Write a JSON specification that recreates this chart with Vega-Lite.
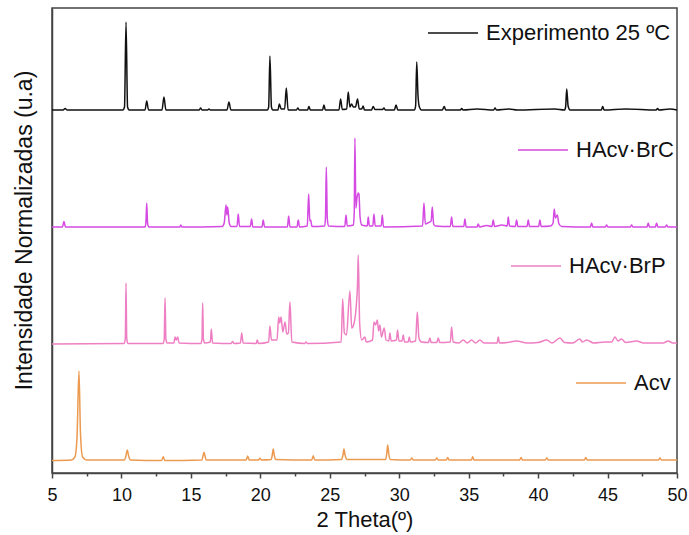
{
  "$schema": "https://vega.github.io/schema/vega-lite/v6.json",
  "width": 625,
  "height": 465,
  "autosize": {"type": "none"},
  "padding": {"left": 52, "top": 8, "right": 12, "bottom": 62},
  "background": "white",
  "config": {
    "view": {"stroke": "#444444", "strokeWidth": 1.5},
    "axis": {
      "grid": false,
      "domainColor": "#444444",
      "domainWidth": 1.5,
      "tickColor": "#444444",
      "tickWidth": 1.5,
      "labelFont": "Liberation Sans",
      "labelFontSize": 18,
      "labelColor": "#111111",
      "titleFont": "Liberation Sans",
      "titleFontWeight": "normal",
      "titleColor": "#111111"
    },
    "legend": {
      "orient": "none",
      "symbolType": "stroke",
      "symbolSize": 2500,
      "symbolStrokeWidth": 1.5,
      "labelFont": "Liberation Sans",
      "labelFontSize": 22,
      "labelLimit": 0,
      "labelColor": "#111111",
      "labelOffset": 7,
      "padding": 0,
      "title": null
    }
  },
  "datasets": {
    "exp": [
      {"theta": 5.0, "intensidade": 363}, {"theta": 5.8, "intensidade": 363}, {"theta": 5.94, "intensidade": 364.5}, {"theta": 6.1, "intensidade": 363},
      {"theta": 10.1, "intensidade": 363}, {"theta": 10.22, "intensidade": 366}, {"theta": 10.33, "intensidade": 451}, {"theta": 10.44, "intensidade": 366}, {"theta": 10.56, "intensidade": 363},
      {"theta": 11.7, "intensidade": 363}, {"theta": 11.82, "intensidade": 372}, {"theta": 11.95, "intensidade": 363},
      {"theta": 12.92, "intensidade": 363}, {"theta": 13.06, "intensidade": 376}, {"theta": 13.2, "intensidade": 363},
      {"theta": 15.6, "intensidade": 363}, {"theta": 15.7, "intensidade": 365}, {"theta": 15.8, "intensidade": 363},
      {"theta": 16.2, "intensidade": 363}, {"theta": 16.3, "intensidade": 364}, {"theta": 16.4, "intensidade": 363},
      {"theta": 17.6, "intensidade": 363}, {"theta": 17.74, "intensidade": 371}, {"theta": 17.88, "intensidade": 363},
      {"theta": 20.5, "intensidade": 363}, {"theta": 20.6, "intensidade": 366}, {"theta": 20.69, "intensidade": 417}, {"theta": 20.8, "intensidade": 366}, {"theta": 20.9, "intensidade": 363},
      {"theta": 21.27, "intensidade": 363}, {"theta": 21.37, "intensidade": 369}, {"theta": 21.5, "intensidade": 364},
      {"theta": 21.75, "intensidade": 364}, {"theta": 21.87, "intensidade": 385}, {"theta": 22.0, "intensidade": 363},
      {"theta": 22.6, "intensidade": 363}, {"theta": 22.7, "intensidade": 365}, {"theta": 22.8, "intensidade": 363},
      {"theta": 23.4, "intensidade": 363}, {"theta": 23.5, "intensidade": 366.5}, {"theta": 23.6, "intensidade": 363},
      {"theta": 24.48, "intensidade": 363}, {"theta": 24.58, "intensidade": 368}, {"theta": 24.68, "intensidade": 363},
      {"theta": 25.66, "intensidade": 363}, {"theta": 25.78, "intensidade": 374}, {"theta": 25.9, "intensidade": 363.5},
      {"theta": 26.22, "intensidade": 364}, {"theta": 26.33, "intensidade": 381}, {"theta": 26.45, "intensidade": 366},
      {"theta": 26.57, "intensidade": 369}, {"theta": 26.7, "intensidade": 366}, {"theta": 26.85, "intensidade": 366},
      {"theta": 27.0, "intensidade": 374}, {"theta": 27.12, "intensidade": 364}, {"theta": 27.3, "intensidade": 364},
      {"theta": 27.4, "intensidade": 367}, {"theta": 27.5, "intensidade": 363},
      {"theta": 28.0, "intensidade": 363}, {"theta": 28.13, "intensidade": 366.5}, {"theta": 28.25, "intensidade": 363.5},
      {"theta": 28.8, "intensidade": 363.5}, {"theta": 28.9, "intensidade": 365}, {"theta": 29.0, "intensidade": 363},
      {"theta": 29.65, "intensidade": 363}, {"theta": 29.77, "intensidade": 368}, {"theta": 29.9, "intensidade": 363},
      {"theta": 31.1, "intensidade": 363}, {"theta": 31.18, "intensidade": 367}, {"theta": 31.26, "intensidade": 411}, {"theta": 31.35, "intensidade": 378}, {"theta": 31.45, "intensidade": 366}, {"theta": 31.6, "intensidade": 363},
      {"theta": 33.1, "intensidade": 363}, {"theta": 33.24, "intensidade": 366.5}, {"theta": 33.35, "intensidade": 363},
      {"theta": 34.4, "intensidade": 363}, {"theta": 34.5, "intensidade": 364.5}, {"theta": 34.6, "intensidade": 363},
      {"theta": 35.6, "intensidade": 364}, {"theta": 36.8, "intensidade": 363}, {"theta": 36.9, "intensidade": 365}, {"theta": 37.0, "intensidade": 363},
      {"theta": 37.9, "intensidade": 364}, {"theta": 38.5, "intensidade": 363}, {"theta": 41.2, "intensidade": 364},
      {"theta": 41.9, "intensidade": 363}, {"theta": 41.98, "intensidade": 366}, {"theta": 42.06, "intensidade": 384}, {"theta": 42.16, "intensidade": 367}, {"theta": 42.3, "intensidade": 363},
      {"theta": 44.55, "intensidade": 363}, {"theta": 44.65, "intensidade": 366.5}, {"theta": 44.75, "intensidade": 363},
      {"theta": 46.3, "intensidade": 364}, {"theta": 48.5, "intensidade": 363}, {"theta": 48.6, "intensidade": 364.5}, {"theta": 48.7, "intensidade": 363},
      {"theta": 49.5, "intensidade": 364}, {"theta": 50.0, "intensidade": 363}
    ],
    "brc": [
      {"theta": 5.0, "intensidade": 246}, {"theta": 5.75, "intensidade": 246}, {"theta": 5.86, "intensidade": 251.5}, {"theta": 5.97, "intensidade": 246},
      {"theta": 11.7, "intensidade": 246}, {"theta": 11.76, "intensidade": 250}, {"theta": 11.82, "intensidade": 270}, {"theta": 11.88, "intensidade": 250}, {"theta": 11.96, "intensidade": 246},
      {"theta": 14.2, "intensidade": 246}, {"theta": 14.27, "intensidade": 248}, {"theta": 14.35, "intensidade": 246},
      {"theta": 17.25, "intensidade": 246.5}, {"theta": 17.4, "intensidade": 250}, {"theta": 17.53, "intensidade": 268}, {"theta": 17.59, "intensidade": 258}, {"theta": 17.65, "intensidade": 266}, {"theta": 17.76, "intensidade": 250}, {"theta": 17.9, "intensidade": 246.5},
      {"theta": 18.32, "intensidade": 246.5}, {"theta": 18.41, "intensidade": 259}, {"theta": 18.5, "intensidade": 246.5},
      {"theta": 19.28, "intensidade": 246.5}, {"theta": 19.37, "intensidade": 254}, {"theta": 19.46, "intensidade": 246},
      {"theta": 20.12, "intensidade": 246}, {"theta": 20.21, "intensidade": 253}, {"theta": 20.3, "intensidade": 246},
      {"theta": 21.95, "intensidade": 246}, {"theta": 22.04, "intensidade": 257}, {"theta": 22.13, "intensidade": 246},
      {"theta": 22.64, "intensidade": 246}, {"theta": 22.73, "intensidade": 253}, {"theta": 22.82, "intensidade": 246},
      {"theta": 23.38, "intensidade": 247}, {"theta": 23.48, "intensidade": 279}, {"theta": 23.56, "intensidade": 252}, {"theta": 23.62, "intensidade": 253}, {"theta": 23.72, "intensidade": 246.5},
      {"theta": 24.63, "intensidade": 247}, {"theta": 24.69, "intensidade": 255}, {"theta": 24.75, "intensidade": 306}, {"theta": 24.82, "intensidade": 255}, {"theta": 24.9, "intensidade": 247},
      {"theta": 26.08, "intensidade": 246.5}, {"theta": 26.17, "intensidade": 258}, {"theta": 26.26, "intensidade": 247},
      {"theta": 26.7, "intensidade": 248}, {"theta": 26.76, "intensidade": 260}, {"theta": 26.81, "intensidade": 335}, {"theta": 26.88, "intensidade": 265}, {"theta": 26.96, "intensidade": 275}, {"theta": 27.05, "intensidade": 280}, {"theta": 27.1, "intensidade": 279}, {"theta": 27.18, "intensidade": 256}, {"theta": 27.3, "intensidade": 248},
      {"theta": 27.7, "intensidade": 247}, {"theta": 27.77, "intensidade": 256}, {"theta": 27.85, "intensidade": 247},
      {"theta": 28.1, "intensidade": 247}, {"theta": 28.18, "intensidade": 259}, {"theta": 28.27, "intensidade": 247},
      {"theta": 28.7, "intensidade": 247}, {"theta": 28.78, "intensidade": 258}, {"theta": 28.87, "intensidade": 246},
      {"theta": 31.68, "intensidade": 247}, {"theta": 31.78, "intensidade": 270}, {"theta": 31.88, "intensidade": 249}, {"theta": 32.05, "intensidade": 250}, {"theta": 32.3, "intensidade": 252}, {"theta": 32.38, "intensidade": 266}, {"theta": 32.48, "intensidade": 249}, {"theta": 32.6, "intensidade": 247},
      {"theta": 33.68, "intensidade": 246.5}, {"theta": 33.77, "intensidade": 256}, {"theta": 33.86, "intensidade": 246.5},
      {"theta": 34.65, "intensidade": 246.5}, {"theta": 34.73, "intensidade": 254}, {"theta": 34.82, "intensidade": 246},
      {"theta": 35.6, "intensidade": 246}, {"theta": 35.69, "intensidade": 249}, {"theta": 35.78, "intensidade": 246},
      {"theta": 36.3, "intensidade": 247.5}, {"theta": 36.68, "intensidade": 246.5}, {"theta": 36.77, "intensidade": 253}, {"theta": 36.86, "intensidade": 246.5},
      {"theta": 37.4, "intensidade": 248}, {"theta": 37.78, "intensidade": 247}, {"theta": 37.85, "intensidade": 256}, {"theta": 37.94, "intensidade": 247},
      {"theta": 38.36, "intensidade": 246.5}, {"theta": 38.45, "intensidade": 253}, {"theta": 38.54, "intensidade": 246.5},
      {"theta": 39.2, "intensidade": 246.5}, {"theta": 39.29, "intensidade": 253}, {"theta": 39.38, "intensidade": 246.5},
      {"theta": 40.04, "intensidade": 246.5}, {"theta": 40.13, "intensidade": 253}, {"theta": 40.22, "intensidade": 246.5},
      {"theta": 40.9, "intensidade": 247}, {"theta": 41.08, "intensidade": 250}, {"theta": 41.16, "intensidade": 264}, {"theta": 41.25, "intensidade": 255}, {"theta": 41.38, "intensidade": 258}, {"theta": 41.5, "intensidade": 249}, {"theta": 41.7, "intensidade": 246.5},
      {"theta": 43.76, "intensidade": 246}, {"theta": 43.85, "intensidade": 250}, {"theta": 43.94, "intensidade": 246},
      {"theta": 44.84, "intensidade": 246}, {"theta": 44.93, "intensidade": 248}, {"theta": 45.02, "intensidade": 246},
      {"theta": 46.64, "intensidade": 246}, {"theta": 46.73, "intensidade": 248}, {"theta": 46.82, "intensidade": 246},
      {"theta": 47.84, "intensidade": 246}, {"theta": 47.93, "intensidade": 250}, {"theta": 48.02, "intensidade": 246},
      {"theta": 48.44, "intensidade": 246}, {"theta": 48.53, "intensidade": 250}, {"theta": 48.62, "intensidade": 246},
      {"theta": 49.16, "intensidade": 246}, {"theta": 49.25, "intensidade": 248}, {"theta": 49.34, "intensidade": 246},
      {"theta": 50.0, "intensidade": 246}
    ],
    "brp": [
      {"theta": 5.0, "intensidade": 129}, {"theta": 10.2, "intensidade": 129.5}, {"theta": 10.28, "intensidade": 135}, {"theta": 10.33, "intensidade": 190}, {"theta": 10.38, "intensidade": 135}, {"theta": 10.46, "intensidade": 129.5},
      {"theta": 13.0, "intensidade": 129.5}, {"theta": 13.08, "intensidade": 134}, {"theta": 13.14, "intensidade": 175}, {"theta": 13.2, "intensidade": 134}, {"theta": 13.3, "intensidade": 130},
      {"theta": 13.78, "intensidade": 130}, {"theta": 13.86, "intensidade": 136}, {"theta": 13.95, "intensidade": 133}, {"theta": 14.05, "intensidade": 136}, {"theta": 14.15, "intensidade": 130},
      {"theta": 15.72, "intensidade": 129.5}, {"theta": 15.8, "intensidade": 134}, {"theta": 15.85, "intensidade": 170}, {"theta": 15.9, "intensidade": 134}, {"theta": 16.0, "intensidade": 130},
      {"theta": 16.4, "intensidade": 131}, {"theta": 16.47, "intensidade": 144}, {"theta": 16.56, "intensidade": 130},
      {"theta": 17.9, "intensidade": 129.5}, {"theta": 18.0, "intensidade": 131.5}, {"theta": 18.1, "intensidade": 129.5},
      {"theta": 18.57, "intensidade": 130}, {"theta": 18.66, "intensidade": 140}, {"theta": 18.76, "intensidade": 130},
      {"theta": 19.7, "intensidade": 129.5}, {"theta": 19.78, "intensidade": 133}, {"theta": 19.86, "intensidade": 129.5},
      {"theta": 20.6, "intensidade": 131}, {"theta": 20.69, "intensidade": 147}, {"theta": 20.8, "intensidade": 133},
      {"theta": 21.2, "intensidade": 133}, {"theta": 21.32, "intensidade": 156}, {"theta": 21.4, "intensidade": 150}, {"theta": 21.49, "intensidade": 156}, {"theta": 21.62, "intensidade": 141}, {"theta": 21.78, "intensidade": 151}, {"theta": 21.9, "intensidade": 139}, {"theta": 22.02, "intensidade": 140}, {"theta": 22.13, "intensidade": 171}, {"theta": 22.27, "intensidade": 131},
      {"theta": 23.2, "intensidade": 129.5}, {"theta": 23.29, "intensidade": 131}, {"theta": 23.38, "intensidade": 129.5},
      {"theta": 25.82, "intensidade": 131}, {"theta": 25.93, "intensidade": 174}, {"theta": 26.05, "intensidade": 140}, {"theta": 26.2, "intensidade": 138}, {"theta": 26.45, "intensidade": 182}, {"theta": 26.58, "intensidade": 145}, {"theta": 26.75, "intensidade": 150}, {"theta": 26.9, "intensidade": 166}, {"theta": 27.0, "intensidade": 190}, {"theta": 27.05, "intensidade": 218}, {"theta": 27.15, "intensidade": 150}, {"theta": 27.3, "intensidade": 133},
      {"theta": 27.53, "intensidade": 136}, {"theta": 27.62, "intensidade": 131},
      {"theta": 28.08, "intensidade": 133}, {"theta": 28.18, "intensidade": 151}, {"theta": 28.3, "intensidade": 148}, {"theta": 28.42, "intensidade": 153}, {"theta": 28.52, "intensidade": 142}, {"theta": 28.61, "intensidade": 148}, {"theta": 28.72, "intensidade": 136}, {"theta": 28.92, "intensidade": 145}, {"theta": 29.05, "intensidade": 133},
      {"theta": 29.25, "intensidade": 132}, {"theta": 29.33, "intensidade": 140}, {"theta": 29.42, "intensidade": 132},
      {"theta": 29.8, "intensidade": 133}, {"theta": 29.88, "intensidade": 143}, {"theta": 29.98, "intensidade": 132},
      {"theta": 30.2, "intensidade": 132}, {"theta": 30.29, "intensidade": 138}, {"theta": 30.38, "intensidade": 131},
      {"theta": 30.65, "intensidade": 131}, {"theta": 30.72, "intensidade": 136}, {"theta": 30.8, "intensidade": 131},
      {"theta": 31.18, "intensidade": 132}, {"theta": 31.3, "intensidade": 161}, {"theta": 31.42, "intensidade": 135}, {"theta": 31.6, "intensidade": 131},
      {"theta": 32.1, "intensidade": 130.5}, {"theta": 32.21, "intensidade": 135}, {"theta": 32.3, "intensidade": 130.5},
      {"theta": 32.7, "intensidade": 130.5}, {"theta": 32.81, "intensidade": 135}, {"theta": 32.92, "intensidade": 130.5},
      {"theta": 33.68, "intensidade": 131}, {"theta": 33.77, "intensidade": 146}, {"theta": 33.88, "intensidade": 131},
      {"theta": 34.3, "intensidade": 130}, {"theta": 34.61, "intensidade": 133}, {"theta": 34.9, "intensidade": 130}, {"theta": 35.21, "intensidade": 133}, {"theta": 35.5, "intensidade": 130}, {"theta": 35.81, "intensidade": 133}, {"theta": 36.1, "intensidade": 130},
      {"theta": 36.6, "intensidade": 130}, {"theta": 37.05, "intensidade": 130}, {"theta": 37.13, "intensidade": 136}, {"theta": 37.22, "intensidade": 130},
      {"theta": 37.8, "intensidade": 130.5}, {"theta": 38.45, "intensidade": 132}, {"theta": 39.2, "intensidade": 130}, {"theta": 40.0, "intensidade": 130.5},
      {"theta": 40.62, "intensidade": 133}, {"theta": 41.0, "intensidade": 130}, {"theta": 41.57, "intensidade": 135}, {"theta": 41.9, "intensidade": 130.5},
      {"theta": 42.5, "intensidade": 130}, {"theta": 43.0, "intensidade": 134}, {"theta": 43.2, "intensidade": 131}, {"theta": 43.49, "intensidade": 133}, {"theta": 44.0, "intensidade": 130},
      {"theta": 44.8, "intensidade": 131}, {"theta": 45.3, "intensidade": 131}, {"theta": 45.53, "intensidade": 136}, {"theta": 45.75, "intensidade": 132}, {"theta": 46.0, "intensidade": 134}, {"theta": 46.3, "intensidade": 130.5},
      {"theta": 47.09, "intensidade": 132}, {"theta": 47.6, "intensidade": 130}, {"theta": 48.3, "intensidade": 130}, {"theta": 49.0, "intensidade": 130}, {"theta": 49.37, "intensidade": 132}, {"theta": 49.7, "intensidade": 130}, {"theta": 50.0, "intensidade": 130}
    ],
    "acv": [
      {"theta": 5.0, "intensidade": 12.5}, {"theta": 6.4, "intensidade": 13}, {"theta": 6.65, "intensidade": 16}, {"theta": 6.8, "intensidade": 35}, {"theta": 6.94, "intensidade": 102}, {"theta": 7.05, "intensidade": 40}, {"theta": 7.2, "intensidade": 16}, {"theta": 7.5, "intensidade": 13},
      {"theta": 10.22, "intensidade": 13}, {"theta": 10.32, "intensidade": 17}, {"theta": 10.42, "intensidade": 23}, {"theta": 10.52, "intensidade": 17}, {"theta": 10.65, "intensidade": 13},
      {"theta": 12.9, "intensidade": 12.5}, {"theta": 13.01, "intensidade": 16.3}, {"theta": 13.12, "intensidade": 12.5},
      {"theta": 15.8, "intensidade": 13}, {"theta": 15.87, "intensidade": 17}, {"theta": 15.94, "intensidade": 20.7}, {"theta": 16.02, "intensidade": 17}, {"theta": 16.1, "intensidade": 13},
      {"theta": 18.98, "intensidade": 13}, {"theta": 19.09, "intensidade": 17}, {"theta": 19.2, "intensidade": 13},
      {"theta": 19.86, "intensidade": 13}, {"theta": 19.97, "intensidade": 14.7}, {"theta": 20.08, "intensidade": 13},
      {"theta": 20.78, "intensidade": 13.5}, {"theta": 20.86, "intensidade": 18}, {"theta": 20.93, "intensidade": 24}, {"theta": 21.0, "intensidade": 18}, {"theta": 21.1, "intensidade": 13.5},
      {"theta": 23.7, "intensidade": 13}, {"theta": 23.81, "intensidade": 17.3}, {"theta": 23.92, "intensidade": 13},
      {"theta": 25.85, "intensidade": 13.5}, {"theta": 25.95, "intensidade": 18}, {"theta": 26.02, "intensidade": 24}, {"theta": 26.1, "intensidade": 18}, {"theta": 26.25, "intensidade": 13.5},
      {"theta": 29.02, "intensidade": 13.5}, {"theta": 29.1, "intensidade": 19}, {"theta": 29.17, "intensidade": 28}, {"theta": 29.25, "intensidade": 19}, {"theta": 29.35, "intensidade": 13.5},
      {"theta": 30.8, "intensidade": 13}, {"theta": 30.9, "intensidade": 15}, {"theta": 31.0, "intensidade": 13},
      {"theta": 32.6, "intensidade": 13}, {"theta": 32.7, "intensidade": 15}, {"theta": 32.8, "intensidade": 13},
      {"theta": 33.39, "intensidade": 13}, {"theta": 33.49, "intensidade": 15.5}, {"theta": 33.59, "intensidade": 13},
      {"theta": 35.2, "intensidade": 13}, {"theta": 35.29, "intensidade": 16.3}, {"theta": 35.38, "intensidade": 13},
      {"theta": 38.67, "intensidade": 13}, {"theta": 38.77, "intensidade": 15.5}, {"theta": 38.87, "intensidade": 13},
      {"theta": 40.52, "intensidade": 13}, {"theta": 40.62, "intensidade": 15}, {"theta": 40.72, "intensidade": 13},
      {"theta": 43.33, "intensidade": 13}, {"theta": 43.43, "intensidade": 15.5}, {"theta": 43.53, "intensidade": 13},
      {"theta": 48.67, "intensidade": 13}, {"theta": 48.77, "intensidade": 15}, {"theta": 48.87, "intensidade": 13},
      {"theta": 50.0, "intensidade": 13}
    ]
  },
  "encoding": {
    "x": {
      "field": "theta",
      "type": "quantitative",
      "scale": {"domain": [5, 50], "nice": false, "zero": false},
      "axis": {
        "title": "2 Theta(º)",
        "titleFontSize": 22,
        "titlePadding": 5,
        "values": [5, 7.5, 10, 12.5, 15, 17.5, 20, 22.5, 25, 27.5, 30, 32.5, 35, 37.5, 40, 42.5, 45, 47.5, 50],
        "labelExpr": "datum.value % 5 === 0 ? datum.label : ''",
        "tickSize": {"condition": {"test": "datum.value % 5 === 0", "value": 5}, "value": 3},
        "labelPadding": 8,
        "labelFlush": false,
        "labelOverlap": false
      }
    },
    "y": {
      "field": "intensidade",
      "type": "quantitative",
      "scale": {"domain": [0, 465], "nice": false, "zero": false},
      "axis": {
        "title": "Intensidade Normalizadas (u.a)",
        "titleFontSize": 23,
        "titlePadding": 16,
        "titleY": 222,
        "ticks": false,
        "labels": false
      }
    }
  },
  "layer": [
    {
      "data": {"name": "exp"},
      "mark": {"type": "line", "strokeWidth": 1.5, "interpolate": "monotone"},
      "encoding": {
        "color": {
          "datum": "Experimento 25 ºC",
          "scale": {"domain": ["Experimento 25 ºC"], "range": ["#111111"]},
          "legend": {"legendX": 375, "legendY": -1}
        }
      }
    },
    {
      "data": {"name": "brc"},
      "mark": {"type": "line", "strokeWidth": 1.5, "interpolate": "monotone"},
      "encoding": {
        "color": {
          "datum": "HAcv·BrC",
          "scale": {"domain": ["HAcv·BrC"], "range": ["#d54ae2"]},
          "legend": {"legendX": 465, "legendY": 116}
        }
      }
    },
    {
      "data": {"name": "brp"},
      "mark": {"type": "line", "strokeWidth": 1.5, "interpolate": "monotone"},
      "encoding": {
        "color": {
          "datum": "HAcv·BrP",
          "scale": {"domain": ["HAcv·BrP"], "range": ["#ee7fc3"]},
          "legend": {"legendX": 458, "legendY": 232}
        }
      }
    },
    {
      "data": {"name": "acv"},
      "mark": {"type": "line", "strokeWidth": 1.5, "interpolate": "monotone"},
      "encoding": {
        "color": {
          "datum": "Acv",
          "scale": {"domain": ["Acv"], "range": ["#eb9a50"]},
          "legend": {"legendX": 523, "legendY": 349}
        }
      }
    }
  ],
  "resolve": {"scale": {"color": "independent"}}
}
